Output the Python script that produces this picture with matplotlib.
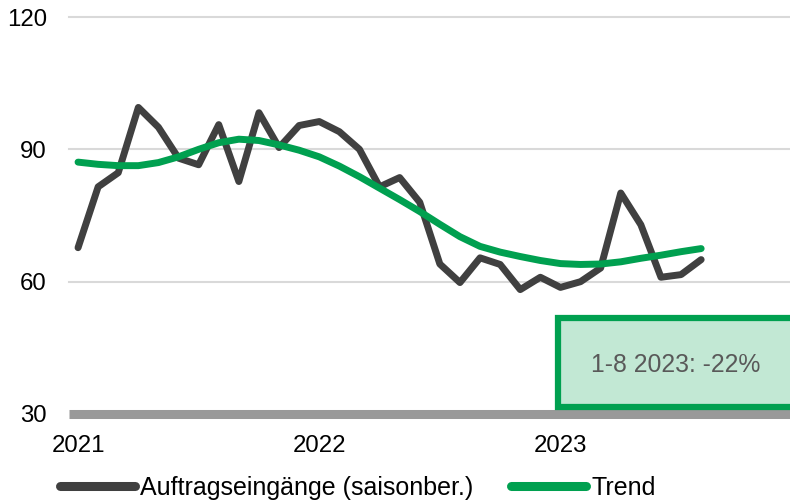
import matplotlib
matplotlib.use("Agg")
import matplotlib.pyplot as plt
from matplotlib.lines import Line2D
from matplotlib.patches import Rectangle
import numpy as np

plt.rcParams['font.family'] = ['Liberation Sans', 'DejaVu Sans']

# Monthly data Jan 2021 - Aug 2023
auftrag = [67.7, 81.5, 84.7, 99.5, 95.0, 88.0, 86.5, 95.6, 82.7, 98.3, 90.4, 95.4,
           96.3, 94.0, 90.0, 81.5, 83.6, 78.0, 64.0, 59.8, 65.4, 63.9, 58.2, 61.0,
           58.7, 60.0, 63.1, 80.1, 72.9, 61.0, 61.6, 65.0]
trend = [87.1, 86.6, 86.3, 86.3, 87.0, 88.3, 90.0, 91.5, 92.3, 92.0, 91.0, 89.8,
         88.3, 86.2, 83.8, 81.2, 78.6, 75.9, 73.0, 70.2, 68.0, 66.7, 65.7, 64.8,
         64.1, 63.9, 64.0, 64.5, 65.3, 66.0, 66.8, 67.5]
year_ticks = [0, 12, 24]
year_labels = ['2021', '2022', '2023']
y_ticks = [30, 60, 90, 120]
series_names = ['Auftragseingänge (saisonber.)', 'Trend']
box_text = '1-8 2023: -22%'

DARK = '#404040'
GREEN = '#00a050'
FS = 17.3

fig = plt.figure(figsize=(7.9, 5.03), dpi=100)
ax = fig.add_axes([69/790, 89/503, 721/790, 397/503])

x = np.arange(len(auftrag))
ax.plot(x, auftrag, color=DARK, lw=5, solid_joinstyle='round', solid_capstyle='round', zorder=4)
ax.plot(x, trend, color=GREEN, lw=5, solid_joinstyle='round', solid_capstyle='round', zorder=5)

ax.set_xlim(-0.45, 35.42)
ax.set_ylim(30, 120)
for yv in y_ticks[1:]:
    ax.axhline(yv, color='#d9d9d9', lw=1.5, zorder=1, clip_on=False)
ax.axhline(30, color='#999999', lw=6.5, zorder=2, clip_on=False, solid_capstyle='butt')

for s in ax.spines.values():
    s.set_visible(False)
ax.set_yticks(y_ticks)
ax.set_yticklabels([str(v) for v in y_ticks], fontsize=FS)
ax.set_xticks(year_ticks)
ax.set_xticklabels(year_labels, fontsize=FS)
ax.tick_params(axis='y', length=0, pad=16)
ax.tick_params(axis='x', length=0, pad=15)

box = Rectangle((0.678, 0.018), 0.35, 0.224, transform=ax.transAxes,
                facecolor='#c2e8d4', edgecolor=GREEN, lw=4.5, zorder=6, clip_on=False)
ax.add_patch(box)
ax.text(0.842, 0.123, box_text, transform=ax.transAxes, ha='center', va='center',
        fontsize=17.8, color='#595959', zorder=7)

handles = [Line2D([], [], color=DARK, lw=6.5, solid_capstyle='round'),
           Line2D([], [], color=GREEN, lw=6.5, solid_capstyle='round')]
fig.legend(handles, series_names, loc='center left', bbox_to_anchor=(60/790, 15/503),
           ncol=2, frameon=False, fontsize=18, handlelength=3.0, handletextpad=0.2,
           columnspacing=1.52, borderpad=0, borderaxespad=0)

fig.savefig('out.png', dpi=100)
